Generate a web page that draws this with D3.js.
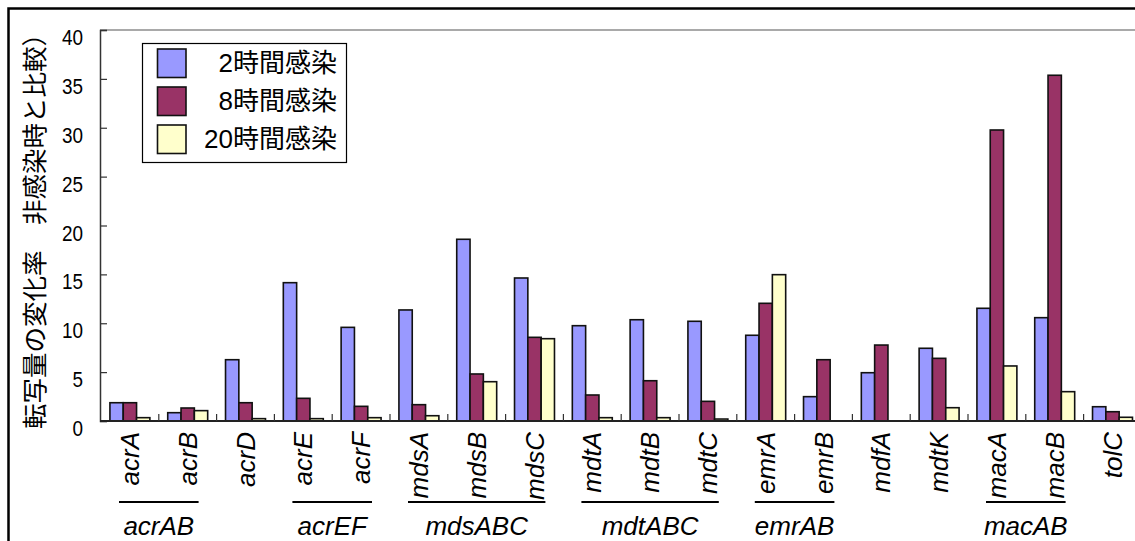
<!DOCTYPE html>
<html><head><meta charset="utf-8">
<script src="https://cdn.jsdelivr.net/npm/d3@7"></script>
<style>
html,body{margin:0;padding:0;background:#fff;}
svg{display:block;}
</style></head>
<body>
<svg id="chart" width="1135" height="541"></svg>
<script>
// ---- data ----
const categories = ["acrA","acrB","acrD","acrE","acrF","mdsA","mdsB","mdsC","mdtA","mdtB","mdtC","emrA","emrB","mdfA","mdtK","macA","macB","tolC"];
const seriesNames = ["2時間感染","8時間感染","20時間感染"];
const values2h  = [1.87,0.85,6.27,14.15,9.58,11.36,18.59,14.63,9.75,10.36,10.2,8.77,2.49,4.94,7.44,11.53,10.57,1.46];
const values8h  = [1.87,1.33,1.87,2.32,1.50,1.67,4.81,8.56,2.66,4.12,2.01,12.04,6.27,7.77,6.41,29.77,35.37,0.95];
const values20h = [0.34,1.06,0.24,0.24,0.34,0.54,4.02,8.42,0.34,0.34,0.2,14.97,0,0,1.36,5.63,3.0,0.38];
const yTicks = [0,5,10,15,20,25,30,35,40];
const operonGroups = [
  {label:"acrAB", first:"acrA", last:"acrB"},
  {label:"acrEF", first:"acrE", last:"acrF"},
  {label:"mdsABC", first:"mdsA", last:"mdsC"},
  {label:"mdtABC", first:"mdtA", last:"mdtC"},
  {label:"emrAB", first:"emrA", last:"emrB"},
  {label:"macAB", first:"macA", last:"macB"}
];
const yTitle = "転写量の変化率　非感染時と比較）";
const colors = ["#9999FF","#993366","#FFFFCC"];

// ---- layout ----
const svg = d3.select("#chart");
const axLeft = 100, plotX0 = 101, plotX1 = 1141.4, plotTop = 30, base = 421;
const latin = "'Liberation Sans', Arial, sans-serif";
const cjk = "'Liberation Sans', 'Noto Sans CJK JP', sans-serif";

const x = d3.scaleBand().domain(categories).range([plotX0, plotX1]).paddingInner(0).paddingOuter(0);
const bw = x.bandwidth();
const xs = d3.scaleBand().domain(seriesNames).range([0, bw]).paddingInner(0).paddingOuter(0.67);
const y = d3.scaleLinear().domain([0,40]).range([base, plotTop]);

// outer frame
svg.append("rect").attr("x",8.5).attr("y",8.5).attr("width",1140).attr("height",560)
  .attr("fill","none").attr("stroke","#000").attr("stroke-width",2.5);

// plot top border
svg.append("line").attr("x1",axLeft).attr("x2",1140).attr("y1",plotTop).attr("y2",plotTop)
  .attr("stroke","#555").attr("stroke-width",1.2);

// bars
const table = categories.map((c,i)=>({cat:c, vals:[values2h[i],values8h[i],values20h[i]]}));
const g = svg.append("g");
table.forEach(d=>{
  d.vals.forEach((v,j)=>{
    g.append("rect")
      .attr("x", x(d.cat)+xs(seriesNames[j]))
      .attr("y", y(v))
      .attr("width", xs.bandwidth())
      .attr("height", Math.max(0, base - y(v)))
      .attr("fill", colors[j])
      .attr("stroke", "#111")
      .attr("stroke-width", 1.6);
  });
});

// y axis
const yAxis = d3.axisLeft(y).tickValues(yTicks).tickSize(-7).tickPadding(17).tickFormat(d3.format("d"));
const ya = svg.append("g").attr("transform",`translate(${axLeft},0)`).call(yAxis);
ya.select(".domain").attr("stroke","#333").attr("stroke-width",1.5);
ya.selectAll(".tick line").attr("stroke","#333").attr("stroke-width",1.2);
ya.selectAll(".tick text").attr("font-family",latin).attr("font-size",22)
  .attr("fill","#000").attr("dy","0.66em")
  .attr("transform","scale(0.86,1)")
  .attr("x", -17/0.86);

// x axis baseline
svg.append("line").attr("x1",axLeft).attr("x2",1140).attr("y1",base).attr("y2",base)
  .attr("stroke","#222").attr("stroke-width",2);
// category separators (inward ticks)
categories.slice(1).forEach(c=>{
  svg.append("line").attr("x1",x(c)).attr("x2",x(c)).attr("y1",base).attr("y2",base-7)
    .attr("stroke","#333").attr("stroke-width",1.2);
});

// category labels (rotated, italic)
categories.forEach(c=>{
  svg.append("g").attr("transform",`translate(${x(c)+bw/2},432) rotate(-90) scale(1.04,1)`)
    .append("text").attr("text-anchor","end").attr("dy","0.36em")
    .attr("font-family",latin).attr("font-style","italic").attr("font-size",25)
    .attr("fill","#000").text(c);
});

// operon groups
operonGroups.forEach(o=>{
  const xa = x(o.first), xb = x(o.last)+bw;
  svg.append("line").attr("x1",xa+18).attr("x2",xb-18).attr("y1",502).attr("y2",502)
    .attr("stroke","#000").attr("stroke-width",2);
  const cx = (x(o.first)+x(o.last))/2 + bw/2;
  svg.append("g").attr("transform",`translate(${cx},535) scale(1.04,1)`)
    .append("text").attr("text-anchor","middle")
    .attr("font-family",latin).attr("font-style","italic").attr("font-size",25)
    .attr("fill","#000").text(o.label);
});

// y title
svg.append("text").attr("transform","translate(35,225) rotate(-90)")
  .attr("text-anchor","middle").attr("dy","0.36em")
  .attr("font-family","'Noto Sans CJK JP', sans-serif").attr("font-size",25.5)
  .attr("fill","#000").text(yTitle);

// legend
const lg = svg.append("g");
lg.append("rect").attr("x",142.5).attr("y",43.5).attr("width",204).attr("height",119)
  .attr("fill","#fff").attr("stroke","#000").attr("stroke-width",1.2);
const rowY = d3.scalePoint().domain(seriesNames).range([63,139]);
seriesNames.forEach((s,j)=>{
  lg.append("rect").attr("x",157.5).attr("y",rowY(s)-14).attr("width",28.5).attr("height",28.5)
    .attr("fill",colors[j]).attr("stroke","#111").attr("stroke-width",1.6);
  lg.append("text").attr("x",337).attr("y",rowY(s)).attr("dy","0.36em")
    .attr("text-anchor","end").attr("font-family",cjk).attr("font-size",26)
    .attr("fill","#000").text(s);
});
</script>
</body></html>
